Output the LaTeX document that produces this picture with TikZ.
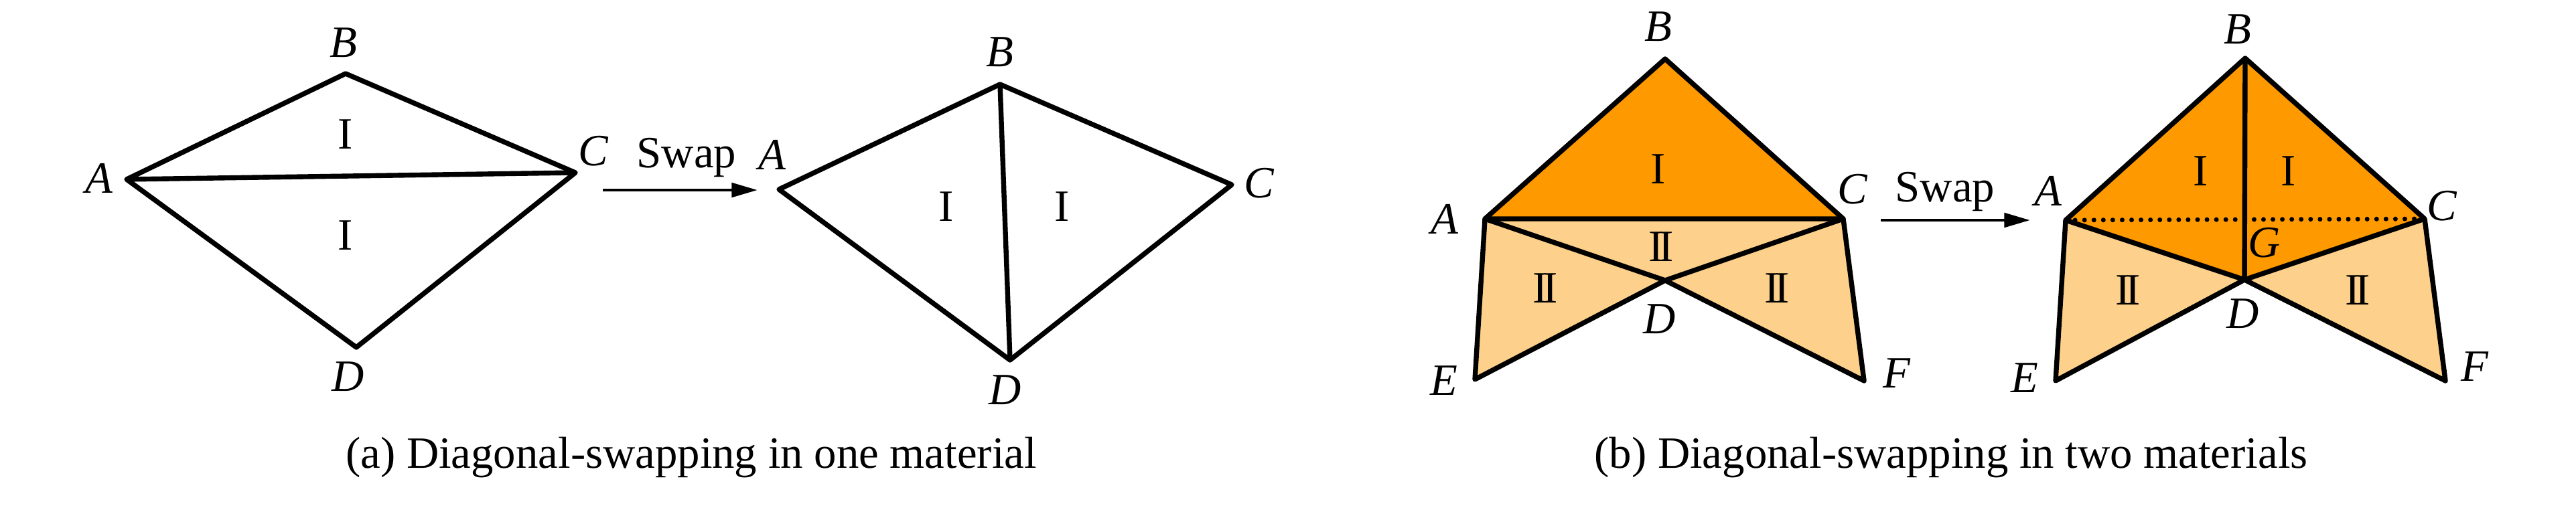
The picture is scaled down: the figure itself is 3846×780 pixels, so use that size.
\documentclass[tikz,border=0pt]{standalone}
\usepackage{fontspec}
\setmainfont{Liberation Serif}
\usetikzlibrary{arrows.meta}
\definecolor{darkor}{RGB}{255,153,0}
\definecolor{lightor}{RGB}{253,209,140}
\newcommand\RomII{I\kern-0.1em I}
\begin{document}
\begin{tikzpicture}[x=0.01cm,y=-0.01cm,line join=round,
  every node/.style={font=\fontsize{19pt}{23pt}\selectfont,inner sep=0pt},
  vlabel/.style={font=\fontsize{19pt}{23pt}\selectfont\itshape},
  edge/.style={line width=2.1pt},
  swaparrow/.style={line width=1.4pt,-{Triangle[length=11pt,width=6pt]}},
  dotline/.style={line width=2pt,line cap=round,dash pattern=on 0pt off 4pt},
  caption/.style={anchor=base}]
\useasboundingbox (0,0) rectangle (3846,780);

% ---------- panel (a), before ----------
\coordinate (a1A) at (189,268);
\coordinate (a1B) at (516,110);
\coordinate (a1C) at (859,258);
\coordinate (a1D) at (532,519);
\draw[edge] (a1A) -- (a1B) -- (a1C) -- (a1D) -- cycle;
\draw[edge] (a1A) -- (a1C);
\node[vlabel] (la1A) at (148,266) {A};
\node[vlabel] (la1B) at (513,64) {B};
\node[vlabel] (la1C) at (886,226) {C};
\node[vlabel] (la1D) at (520,563) {D};
\node (ia1u) at (516,201) {I};
\node (ia1d) at (516,352) {I};

% arrow (a)
\coordinate (sa) at (900,284);
\coordinate (ta) at (1131,284);
\draw[swaparrow] (sa) -- (ta);
\node[anchor=base] (swa) at (1025,251) {Swap};

% ---------- panel (a), after ----------
\coordinate (a2A) at (1163,283);
\coordinate (a2B) at (1493,126);
\coordinate (a2C) at (1839,276);
\coordinate (a2D) at (1508,538);
\draw[edge] (a2A) -- (a2B) -- (a2C) -- (a2D) -- cycle;
\draw[edge] (a2B) -- (a2D);
\node[vlabel] (la2A) at (1153,231) {A};
\node[vlabel] (la2B) at (1493,78) {B};
\node[vlabel] (la2C) at (1880,274) {C};
\node[vlabel] (la2D) at (1501,583) {D};
\node (ia2l) at (1413,309) {I};
\node (ia2r) at (1586,309) {I};

\node[caption] (capa) at (1032,700) {(a) Diagonal-swapping in one material};

% ---------- panel (b), before ----------
\coordinate (b1A) at (2217,327);
\coordinate (b1B) at (2486,88);
\coordinate (b1C) at (2752,327);
\coordinate (b1D) at (2486,419);
\coordinate (b1E) at (2202,567);
\coordinate (b1F) at (2783,569);
\fill[darkor] (b1A) -- (b1B) -- (b1C) -- cycle;
\fill[lightor] (b1A) -- (b1C) -- (b1D) -- cycle;
\fill[lightor] (b1A) -- (b1D) -- (b1E) -- cycle;
\fill[lightor] (b1C) -- (b1F) -- (b1D) -- cycle;
\draw[edge] (b1A) -- (b1B) -- (b1C) -- cycle;
\draw[edge] (b1A) -- (b1D) -- (b1C);
\draw[edge] (b1A) -- (b1E) -- (b1D) -- (b1F) -- (b1C);
\node[vlabel] (lb1A) at (2157,327) {A};
\node[vlabel] (lb1B) at (2476,40) {B};
\node[vlabel] (lb1C) at (2766,283) {C};
\node[vlabel] (lb1D) at (2478,477) {D};
\node[vlabel] (lb1E) at (2156,569) {E};
\node[vlabel] (lb1F) at (2832,558) {F};
\node (ib1) at (2476,253) {I};
\node (iib1c) at (2480,369) {\RomII};
\node (iib1l) at (2307,431) {\RomII};
\node (iib1r) at (2653,431) {\RomII};

% arrow (b)
\coordinate (sb) at (2808,329);
\coordinate (tb) at (3031,329);
\draw[swaparrow] (sb) -- (tb);
\node[anchor=base] (swb) at (2904,302) {Swap};

% ---------- panel (b), after ----------
\coordinate (b2A) at (3084,329);
\coordinate (b2B) at (3352,87);
\coordinate (b2C) at (3620,327);
\coordinate (b2D) at (3351,418);
\coordinate (b2E) at (3069,569);
\coordinate (b2F) at (3651,569);
\coordinate (b2G) at (3351,329);
\fill[darkor] (b2A) -- (b2B) -- (b2C) -- (b2D) -- cycle;
\fill[lightor] (b2A) -- (b2D) -- (b2E) -- cycle;
\fill[lightor] (b2C) -- (b2F) -- (b2D) -- cycle;
\draw[dotline] (b2A) -- (b2C);
\draw[edge] (b2A) -- (b2B) -- (b2C) -- (b2D) -- cycle;
\draw[edge] (b2B) -- (b2D);
\draw[edge] (b2A) -- (b2E) -- (b2D) -- (b2F) -- (b2C);
\node[vlabel] (lb2A) at (3058,285) {A};
\node[vlabel] (lb2B) at (3341,44) {B};
\node[vlabel] (lb2C) at (3646,308) {C};
\node[vlabel] (lb2D) at (3349,469) {D};
\node[vlabel] (lb2E) at (3023,565) {E};
\node[vlabel] (lb2F) at (3695,548) {F};
\node[vlabel] (lb2G) at (3381,363) {G};
\node (ib2l) at (3286,256) {I};
\node (ib2r) at (3417,256) {I};
\node (iib2l) at (3177,434) {\RomII};
\node (iib2r) at (3520,434) {\RomII};

\node[caption] (capb) at (2913,700) {(b) Diagonal-swapping in two materials};
\end{tikzpicture}
\end{document}
